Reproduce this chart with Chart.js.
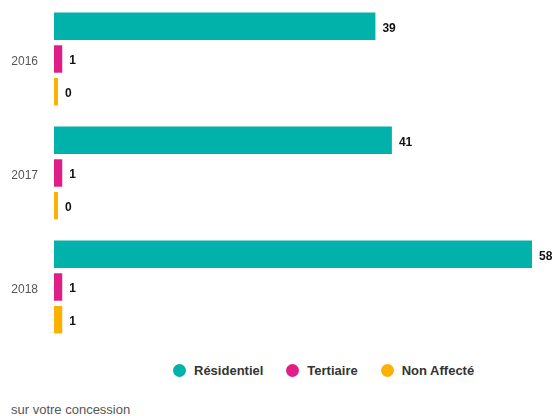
<!DOCTYPE html>
<html>
<head>
<meta charset="utf-8">
<script src="https://cdn.jsdelivr.net/npm/chart.js@4"></script>
<style>
  body { margin: 0; background: #fff; font-family: "Liberation Sans", Arial, sans-serif; }
  #wrap { position: relative; width: 554px; height: 416px; }
  #chart { position: absolute; left: 0; top: 0; }
  #legend { position: absolute; left: 173px; top: 363px; display: flex; font-size: 13px; font-weight: bold; color: #333; }
  .item { display: flex; align-items: center; margin-right: 23px; }
  .dot { width: 13px; height: 13px; border-radius: 50%; margin-right: 8px; }
  #footer { position: absolute; left: 11px; top: 402px; font-size: 13px; color: #555; }
</style>
</head>
<body>
<div id="wrap">
  <canvas id="chart" width="554" height="350"></canvas>
  <div id="legend"></div>
  <div id="footer">sur votre concession</div>
</div>
<script>
// Data
const years = ["2016", "2017", "2018"];
const residentiel = [39, 41, 58];
const tertiaire = [1, 1, 1];
const nonAffecte = [0, 0, 1];
const seriesNames = ["Résidentiel", "Tertiaire", "Non Affecté"];
const seriesColors = ["#00b2aa", "#e01e87", "#fbb100"];

// Value labels at the end of each bar
const valueLabels = {
  id: "valueLabels",
  afterDatasetsDraw(chart) {
    const ctx = chart.ctx;
    ctx.save();
    ctx.font = "bold 12px 'Liberation Sans', Arial, sans-serif";
    ctx.fillStyle = "#111";
    ctx.textBaseline = "middle";
    ctx.textAlign = "left";
    chart.data.datasets.forEach((ds, i) => {
      chart.getDatasetMeta(i).data.forEach((bar, j) => {
        ctx.fillText(ds.data[j], bar.x + 7, bar.y + 2);
      });
    });
    ctx.restore();
  },
};

const chart = new Chart(document.getElementById("chart"), {
  type: "bar",
  data: {
    labels: years,
    datasets: [
      { label: seriesNames[0], data: residentiel, backgroundColor: seriesColors[0] },
      { label: seriesNames[1], data: tertiaire, backgroundColor: seriesColors[1] },
      { label: seriesNames[2], data: nonAffecte, backgroundColor: seriesColors[2] },
    ],
  },
  options: {
    indexAxis: "y",
    responsive: false,
    animation: false,
    datasets: {
      bar: { categoryPercentage: 0.86, barPercentage: 0.84, minBarLength: 4 },
    },
    layout: { padding: { top: 2, bottom: 6, right: 22, left: 0 } },
    plugins: { legend: { display: false }, tooltip: { enabled: false } },
    scales: {
      x: { display: false, min: 0, max: 58 },
      y: {
        grid: { display: false },
        border: { display: false },
        ticks: {
          color: "#555",
          padding: 8,
          labelOffset: 3,
          font: { family: "'Liberation Sans', Arial, sans-serif", size: 12 },
        },
        afterFit(scale) {
          scale.width = 54;
          scale.paddingTop = 0;
          scale.paddingBottom = 0;
        },
      },
    },
  },
  plugins: [valueLabels],
});

// Legend
const legend = document.getElementById("legend");
seriesNames.forEach((name, i) => {
  const item = document.createElement("div");
  item.className = "item";
  item.innerHTML = `<span class="dot" style="background:${seriesColors[i]}"></span>${name}`;
  legend.appendChild(item);
});
</script>
</body>
</html>
